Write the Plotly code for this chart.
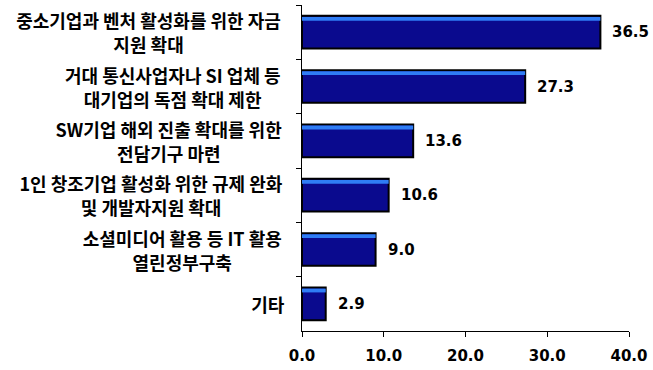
import plotly.graph_objects as go

categories = [
    "중소기업과 벤처 활성화를 위한 자금<br>지원 확대",
    "거대 통신사업자나 SI 업체 등<br>대기업의 독점 확대 제한",
    "SW기업 해외 진출 확대를 위한<br>전담기구 마련",
    "1인 창조기업 활성화 위한 규제 완화<br>및 개발자지원 확대",
    "소셜미디어 활용 등 IT 활용<br>열린정부구축",
    "기타",
]
values = [36.5, 27.3, 13.6, 10.6, 9.0, 2.9]
x_ticks = [0, 10, 20, 30, 40]
x_tick_labels = ["0.0", "10.0", "20.0", "30.0", "40.0"]

LABEL_SIZE = 18


def est_width(s, size):
    w = 0.0
    for ch in s:
        if "\uac00" <= ch <= "\ud7a3":
            w += 0.95
        elif ch == " ":
            w += 0.23
        elif ch in "WM":
            w += 0.9
        elif ch in "I1":
            w += 0.45
        else:
            w += 0.6
    return w * size


fig = go.Figure()
# main bars
fig.add_trace(go.Bar(
    y=categories, x=values, orientation="h",
    width=0.6, offset=-0.3,
    marker=dict(color="#0a0a8e", line=dict(color="#000000", width=2)),
    hoverinfo="skip", showlegend=False,
))
# top highlight strip
fig.add_trace(go.Bar(
    y=categories, x=values, orientation="h",
    width=0.07, offset=-0.28,
    marker=dict(color="#2f7df5", line=dict(width=0)),
    hoverinfo="skip", showlegend=False,
))

annotations = []
for c, v in zip(categories, values):
    annotations.append(dict(
        x=v, y=c, xref="x", yref="y", text=f"{v:.1f}",
        showarrow=False, xanchor="left", xshift=10,
        font=dict(family="DejaVu Sans", size=15, color="#000000", weight="bold"),
    ))
    lines = c.split("<br>")
    box_w = max(est_width(l, LABEL_SIZE) for l in lines)
    n = len(lines)
    for i, line in enumerate(lines):
        annotations.append(dict(
            x=0, y=c, xref="paper", yref="y", text=line,
            showarrow=False, xanchor="right", xshift=-15,
            yshift=(n - 1) * 12 - i * 24,
            width=box_w, align="center",
            font=dict(family="Noto Sans CJK KR", size=LABEL_SIZE,
                      color="#000000", weight="bold"),
        ))

fig.update_layout(
    width=653, height=370,
    margin=dict(l=302, r=24, t=5, b=37),
    paper_bgcolor="white", plot_bgcolor="white",
    barmode="overlay",
    annotations=annotations,
    xaxis=dict(
        range=[0, 40], tickvals=x_ticks, ticktext=x_tick_labels,
        showgrid=False, zeroline=False,
        showline=True, linecolor="black", linewidth=1,
        ticks="outside", ticklen=5, tickcolor="black", ticklabelstandoff=6,
        tickfont=dict(family="DejaVu Sans", size=15, color="#000000", weight="bold"),
    ),
    yaxis=dict(
        autorange="reversed", showticklabels=False,
        showgrid=False, zeroline=False,
        showline=True, linecolor="black", linewidth=1,
        ticks="outside", ticklen=5, tickcolor="black", tickson="boundaries",
    ),
)

fig.write_html("out.html")
